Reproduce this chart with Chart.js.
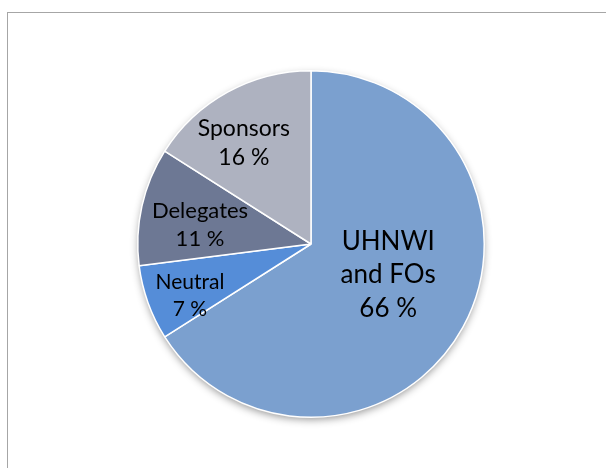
<!DOCTYPE html>
<html>
<head>
<meta charset="utf-8">
<script src="https://cdn.jsdelivr.net/npm/chart.js@4/dist/chart.umd.min.js"></script>
<style>
  html, body { margin: 0; padding: 0; background: #fff; }
  #wrap { width: 606px; height: 468px; position: relative; }
</style>
</head>
<body>
<div id="wrap"><canvas id="pie"></canvas></div>
<script>
const categories = ['UHNWI and FOs', 'Neutral', 'Delegates', 'Sponsors'];
const shares = [66, 7, 11, 16];
const labelLines = [['UHNWI', 'and FOs', '66 %'], ['Neutral', '7 %'], ['Delegates', '11 %'], ['Sponsors', '16 %']];
const sliceColors = ['#7ba0cf', '#558dd8', '#6d7894', '#aeb2c0'];
const labelRadius = [0.48, 0.76, 0.65, 0.70];
const labelAngleShift = [-0.12, -0.06, -0.05, -0.084];
const labelSize = [26, 21, 22, 23];

// gray frame around the chart, like the spreadsheet chart area
const framePlugin = {
  id: 'frame',
  beforeDraw(chart) {
    const c = chart.ctx;
    c.save();
    c.strokeStyle = '#a6a6a6';
    c.lineWidth = 1;
    c.strokeRect(7.5, 12.5, 620, 480);
    c.restore();
  }
};

// soft shadow under the pie
const shadowPlugin = {
  id: 'pieShadow',
  beforeDatasetsDraw(chart) {
    const arc = chart.getDatasetMeta(0).data[0];
    if (!arc) return;
    const c = chart.ctx;
    c.save();
    c.shadowColor = 'rgba(0,0,0,0.45)';
    c.shadowBlur = 8;
    c.shadowOffsetY = 3;
    c.fillStyle = '#fff';
    c.beginPath();
    c.arc(arc.x, arc.y, arc.outerRadius - 1, 0, Math.PI * 2);
    c.fill();
    c.restore();
  }
};

const labelPlugin = {
  id: 'sliceLabels',
  afterDatasetsDraw(chart) {
    const c = chart.ctx;
    const meta = chart.getDatasetMeta(0);
    meta.data.forEach((arc, i) => {
      const mid = (arc.startAngle + arc.endAngle) / 2 + labelAngleShift[i];
      const r = arc.outerRadius * labelRadius[i];
      const x = arc.x + Math.cos(mid) * r;
      const y = arc.y + Math.sin(mid) * r;
      const lines = labelLines[i];
      const lh = labelSize[i] * 1.28;
      c.save();
      c.fillStyle = '#000';
      c.font = labelSize[i] + 'px Lato, "Open Sans", sans-serif';
      c.textAlign = 'center';
      c.textBaseline = 'middle';
      lines.forEach((t, k) => {
        c.fillText(t, x, y + (k - (lines.length - 1) / 2) * lh);
      });
      c.restore();
    });
  }
};

new Chart(document.getElementById('pie'), {
  type: 'pie',
  data: {
    labels: categories,
    datasets: [{
      data: shares,
      backgroundColor: sliceColors,
      borderColor: '#ffffff',
      borderWidth: 1.5
    }]
  },
  options: {
    responsive: true,
    maintainAspectRatio: false,
    animation: false,
    layout: { padding: { top: 70, bottom: 50, left: 137, right: 121 } },
    plugins: {
      legend: { display: false },
      tooltip: { enabled: false }
    }
  },
  plugins: [framePlugin, shadowPlugin, labelPlugin]
});
</script>
</body>
</html>
